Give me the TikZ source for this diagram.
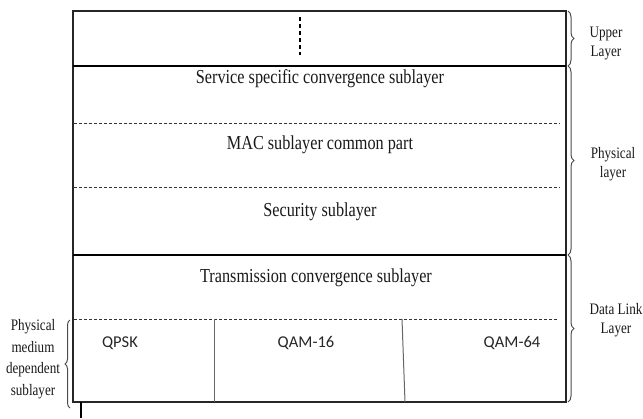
\documentclass[tikz,border=0pt]{standalone}
\usepackage{fontspec}
\setmainfont{Liberation Serif}
\newfontfamily\tnrfont[FakeStretch=0.82]{Liberation Serif}
\newfontfamily\califont{Carlito}
\usetikzlibrary{decorations.pathreplacing}
\tikzset{
  maintext/.style={font=\tnrfont\fontsize{19.8}{22}\selectfont, text=black!90, inner sep=0pt},
  modtext/.style={font=\califont\fontsize{16.5}{20}\selectfont, text=black!85, inner sep=0pt},
  sidetext/.style={font=\tnrfont\fontsize{16}{19}\selectfont, text=black!90, align=center, inner sep=0pt},
  lefttext/.style={font=\tnrfont\fontsize{16}{21.5}\selectfont, text=black!90, align=center, inner sep=0pt},
  frame/.style={draw=black!85, line width=1.4pt},
  thickline/.style={draw=black, line width=2.6pt},
  sepline/.style={draw=black!80, line width=1pt, dash pattern=on 3pt off 2pt},
  divider/.style={draw=black!60, line width=1pt},
  bracer/.style={draw=black!70, line width=1pt, decorate, decoration={brace, amplitude=6pt}},
  dotline/.style={draw=black, line width=2.6pt, dash pattern=on 3.5pt off 3.5pt}
}
\begin{document}
\begin{tikzpicture}[x=1pt,y=-1pt]
\useasboundingbox (0,0) rectangle (643,418);
% corners
\coordinate (tl) at (73,11);
\coordinate (tr) at (566,11);
\coordinate (bl) at (73,402);
\coordinate (br) at (566,402);
\coordinate (u1) at (73,66);
\coordinate (u2) at (566,66);
\coordinate (p1) at (73,255);
\coordinate (p2) at (566,255);
\coordinate (d1a) at (74,123);
\coordinate (d1b) at (560,123);
\coordinate (d2a) at (74,187);
\coordinate (d2b) at (560,187);
\coordinate (d3a) at (74,319);
\coordinate (d3b) at (557,319);
\coordinate (v1t) at (214,319);
\coordinate (v1b) at (214,402);
\coordinate (v2t) at (402,319);
\coordinate (v2b) at (405,402);
\coordinate (dt) at (300,17);
\coordinate (db) at (300,55);
\coordinate (tick1) at (81,402);
\coordinate (tick2) at (81,418);
% frame
\draw[frame] (tl) -- (tr) -- (br) -- (bl) -- cycle;
\draw[thickline] (u1) -- (u2);
\draw[thickline] (p1) -- (p2);
\draw[sepline] (d1a) -- (d1b);
\draw[sepline] (d2a) -- (d2b);
\draw[sepline] (d3a) -- (d3b);
\draw[divider] (v1t) -- (v1b);
\draw[divider] (v2t) -- (v2b);
\draw[dotline] (dt) -- (db);
\draw[draw=black, line width=2pt] (tick1) -- (tick2);
% texts
\node[maintext] (ssc) at (320,79) {Service specific convergence sublayer};
\node[maintext] (mac) at (320,145) {MAC sublayer common part};
\node[maintext] (sec) at (320,212) {Security sublayer};
\node[maintext] (tcs) at (316,278) {Transmission convergence sublayer};
\node[modtext] (qpsk) at (120,343) {QPSK};
\node[modtext] (q16) at (306,343) {QAM-16};
\node[modtext] (q64) at (512,343) {QAM-64};
% braces
\coordinate (b1t) at (568,11);
\coordinate (b1b) at (568,66);
\coordinate (b2t) at (568,66);
\coordinate (b2b) at (568,255);
\coordinate (b3t) at (568,255);
\coordinate (b3b) at (568,402);
\coordinate (b4t) at (70,320);
\coordinate (b4b) at (70,408);
\draw[bracer] (b1t) -- (b1b);
\draw[bracer] (b2t) -- (b2b);
\draw[bracer] (b3t) -- (b3b);
\draw[bracer, decoration={brace, amplitude=5pt}] (b4b) -- (b4t);
\node[sidetext] (upl) at (606,43) {Upper\\Layer};
\node[sidetext] (phl) at (613,164) {Physical\\layer};
\node[sidetext] (dll) at (616,320) {Data Link\\Layer};
\node[lefttext] (pmd) at (33,359) {Physical\\medium\\dependent\\sublayer};
\end{tikzpicture}
\end{document}
